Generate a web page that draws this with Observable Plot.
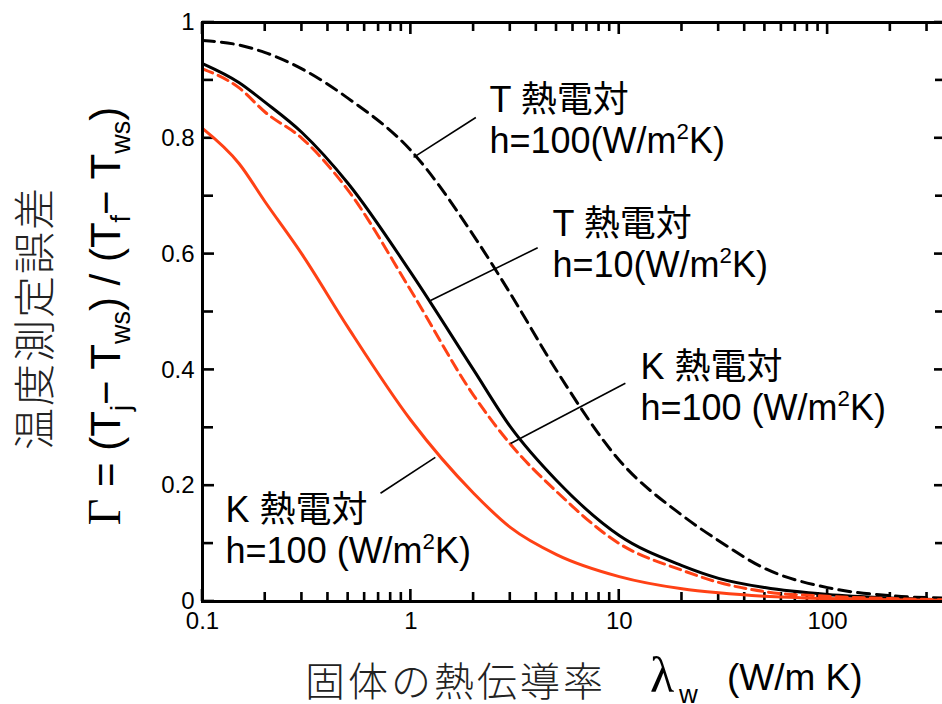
<!DOCTYPE html>
<html>
<head>
<meta charset="utf-8">
<script src="https://cdn.jsdelivr.net/npm/d3@7"></script>
<script src="https://cdn.jsdelivr.net/npm/@observablehq/plot@0.6"></script>
<style>
html, body { margin: 0; padding: 0; background: #fff; overflow: hidden; }
#chart { width: 942px; height: 704px; overflow: hidden; position: relative; }
</style>
</head>
<body>
<div id="chart"></div>
<script>
// ---- data ----
const lambda = [0.1, 0.15, 0.2, 0.3, 0.5, 1, 2, 3, 5, 10, 20, 30, 50, 100, 200, 370];
const tH100 = [0.969, 0.961, 0.948, 0.920, 0.869, 0.779, 0.632, 0.532, 0.399, 0.244, 0.149, 0.105, 0.057, 0.024, 0.010, 0.006];
const tH10  = [0.929, 0.896, 0.862, 0.810, 0.722, 0.568, 0.400, 0.302, 0.209, 0.114, 0.062, 0.040, 0.024, 0.012, 0.006, 0.003];
const kDash = [0.920, 0.887, 0.845, 0.800, 0.710, 0.537, 0.356, 0.272, 0.190, 0.100, 0.054, 0.033, 0.017, 0.009, 0.005, 0.003];
const kSolid = [0.817, 0.756, 0.690, 0.600, 0.473, 0.313, 0.187, 0.128, 0.081, 0.043, 0.022, 0.015, 0.009, 0.005, 0.003, 0.002];

const seriesNames = ["T h=100", "T h=10", "K dashed", "K solid"];
const seriesValues = [tH100, tH10, kDash, kSolid];
const seriesColors = ["#000000", "#000000", "#ff4115", "#ff4115"];
const seriesDash = ["12,7", null, "11,6", null];

const xMajorTicks = [0.1, 1, 10, 100];
const xTickLabels = ["0.1", "1", "10", "100"];
const xMinorTicks = [0.2, 0.3, 0.4, 0.5, 0.6, 0.7, 0.8, 0.9, 2, 3, 4, 5, 6, 7, 8, 9, 20, 30, 40, 50, 60, 70, 80, 90, 200, 300];
const yMajorTicks = [0, 0.2, 0.4, 0.6, 0.8, 1];
const yTickLabels = ["0", "0.2", "0.4", "0.6", "0.8", "1"];
const yMinorTicks = [0.1, 0.3, 0.5, 0.7, 0.9];

const annoText = ["T 熱電対\nh=100(W/m²K)", "T 熱電対\nh=10(W/m²K)", "K 熱電対\nh=100 (W/m²K)", "K 熱電対\nh=100 (W/m²K)"];
const annoX = [2.384, 4.78, 12.64, 0.129];
const annoY = [0.774, 0.560, 0.313, 0.066];
const leaderX1 = [1.03, 1.243, 3.01, 0.715];
const leaderY1 = [0.767, 0.520, 0.273, 0.187];
const leaderX2 = [2.05, 4.06, 10.7, 1.31];
const leaderY2 = [0.836, 0.611, 0.377, 0.249];

const yLabel1 = "温度測定誤差";
const xLabelJa = "固体の熱伝導率";
const xLabelUnit = "(W/m K)";

// ---- layout ----
const W = 942, H = 704, mL = 202, mR = -4, mT = 22, mB = 103;
const xDomain = [0.1, 372], yDomain = [0, 1];
const innerW = W - mL - mR, innerH = H - mT - mB;
const decadePx = innerW / Math.log10(xDomain[1] / xDomain[0]);
const yLen = px => px / innerH * (yDomain[1] - yDomain[0]);
const xFac = px => Math.pow(10, px / decadePx);
const halfW = 1.3; // half tick thickness, px

// ---- tables ----
const rows = seriesNames.map((s, k) => lambda.map((x, i) => ({x, y: seriesValues[k][i], s})));
const annos = annoText.map((t, i) => ({t, x: annoX[i], y: annoY[i]}));
const leaders = leaderX1.map((x1, i) => ({x1, y1: leaderY1[i], x2: leaderX2[i], y2: leaderY2[i]}));
// inward ticks as thin filled rectangles in data space
const tickRects = [];
for (const [list, len] of [[xMajorTicks, 12], [xMinorTicks, 9]]) for (const v of list) {
  const a = v / xFac(halfW), b = v * xFac(halfW);
  tickRects.push({x1: a, x2: b, y1: yDomain[0], y2: yDomain[0] + yLen(len)});
  tickRects.push({x1: a, x2: b, y1: yDomain[1] - yLen(len), y2: yDomain[1]});
}
for (const [list, len] of [[yMajorTicks, 12], [yMinorTicks, 11]]) for (const v of list) {
  const a = v - yLen(halfW), b = v + yLen(halfW);
  tickRects.push({x1: xDomain[0], x2: xDomain[0] * xFac(len), y1: a, y2: b});
  tickRects.push({x1: xDomain[1] / xFac(len), x2: xDomain[1], y1: a, y2: b});
}

const sans = "Liberation Sans, Arial, 'Noto Sans CJK JP', sans-serif";
const tickFont = 24;

const marks = [];
marks.push(Plot.axisX(xMajorTicks, {anchor: "bottom", tickSize: 0, tickPadding: 10, tickFormat: d => xTickLabels[xMajorTicks.indexOf(d)], fontSize: tickFont, label: null}));
marks.push(Plot.axisY(yMajorTicks, {anchor: "left", tickSize: 0, tickPadding: 8, tickFormat: d => yTickLabels[yMajorTicks.indexOf(d)], fontSize: tickFont, label: null}));
marks.push(Plot.rect(tickRects, {x1: "x1", x2: "x2", y1: "y1", y2: "y2", fill: "black", stroke: "none"}));
rows.forEach((data, k) => {
  marks.push(Plot.line(data, {x: "x", y: "y", stroke: seriesColors[k], strokeWidth: 3, strokeDasharray: seriesDash[k] ?? undefined, curve: "monotone-x"}));
});
marks.push(Plot.link(leaders, {x1: "x1", y1: "y1", x2: "x2", y2: "y2", stroke: "black", strokeWidth: 1.6}));
marks.push(Plot.text(annos, {x: "x", y: "y", text: "t", textAnchor: "start", lineAnchor: "bottom", lineHeight: 1.14, fontSize: 36, fill: "black", fontFamily: sans}));
marks.push(Plot.frame({stroke: "black", strokeWidth: 3}));

const chart = Plot.plot({
  width: W,
  height: H,
  marginLeft: mL,
  marginRight: mR,
  marginTop: mT,
  marginBottom: mB,
  x: {type: "log", domain: xDomain},
  y: {domain: yDomain},
  style: {fontFamily: sans, fontSize: tickFont + "px", color: "black", background: "white"},
  marks
});
document.getElementById("chart").appendChild(chart);
const svg = d3.select(chart);

// ---- superscript ² -> raised tspan ----
const ns = "http://www.w3.org/2000/svg";
(function superscripts(root, fs) {
  const walker = document.createTreeWalker(root, NodeFilter.SHOW_TEXT);
  const nodes = [];
  while (walker.nextNode()) if (walker.currentNode.nodeValue.includes("²")) nodes.push(walker.currentNode);
  for (const n of nodes) {
    const [a, b] = n.nodeValue.split("²");
    const p = n.parentNode;
    const sup = document.createElementNS(ns, "tspan");
    sup.setAttribute("dy", -0.4 * fs);
    sup.setAttribute("font-size", 0.62 * fs);
    sup.textContent = "2";
    const rest = document.createElementNS(ns, "tspan");
    rest.setAttribute("dy", 0.4 * fs);
    rest.textContent = b;
    p.insertBefore(document.createTextNode(a), n);
    p.insertBefore(sup, n);
    p.insertBefore(rest, n);
    p.removeChild(n);
  }
})(chart, 36);

// ---- axis titles ----
svg.append("text")
  .attr("transform", "translate(50,318) rotate(-90)")
  .attr("text-anchor", "middle")
  .attr("font-family", "'Noto Sans CJK JP', sans-serif")
  .attr("font-weight", 300)
  .attr("font-size", 42)
  .attr("letter-spacing", 2)
  .attr("fill", "#222")
  .text(yLabel1);

const yl2 = svg.append("text")
  .attr("transform", "translate(120,316) rotate(-90)")
  .attr("text-anchor", "middle")
  .attr("font-family", sans)
  .attr("font-size", 42)
  .attr("fill", "black");
const parts = [["Γ", "serif"], [" = (T"], ["j", "sub"], ["− T"], ["ws", "sub"], [") / (T"], ["f", "sub"], ["− T"], ["ws", "sub"], [")"]];
let shifted = false;
for (const [t, kind] of parts) {
  const sp = yl2.append("tspan").text(t);
  if (kind === "serif") sp.attr("font-family", "Liberation Serif, serif").attr("font-size", 46);
  if (kind === "sub") { sp.attr("font-size", 27).attr("dy", 10); shifted = true; }
  else if (shifted) { sp.attr("dy", -10); shifted = false; }
}

svg.append("text")
  .attr("x", 305).attr("y", 696)
  .attr("text-anchor", "start")
  .attr("font-family", "'Noto Sans CJK JP', sans-serif")
  .attr("font-weight", 300)
  .attr("font-size", 40)
  .attr("letter-spacing", 3)
  .attr("fill", "#222")
  .text(xLabelJa);
svg.append("text")
  .attr("x", 650).attr("y", 692)
  .attr("text-anchor", "start")
  .attr("font-family", "Liberation Serif, serif")
  .attr("font-size", 50)
  .attr("fill", "black")
  .text("λ");
svg.append("text")
  .attr("x", 679).attr("y", 703)
  .attr("text-anchor", "start")
  .attr("font-family", sans)
  .attr("font-size", 26)
  .attr("fill", "black")
  .text("w");
svg.append("text")
  .attr("x", 727).attr("y", 690)
  .attr("text-anchor", "start")
  .attr("font-family", sans)
  .attr("font-size", 37)
  .attr("fill", "black")
  .text(xLabelUnit);
</script>
</body>
</html>
